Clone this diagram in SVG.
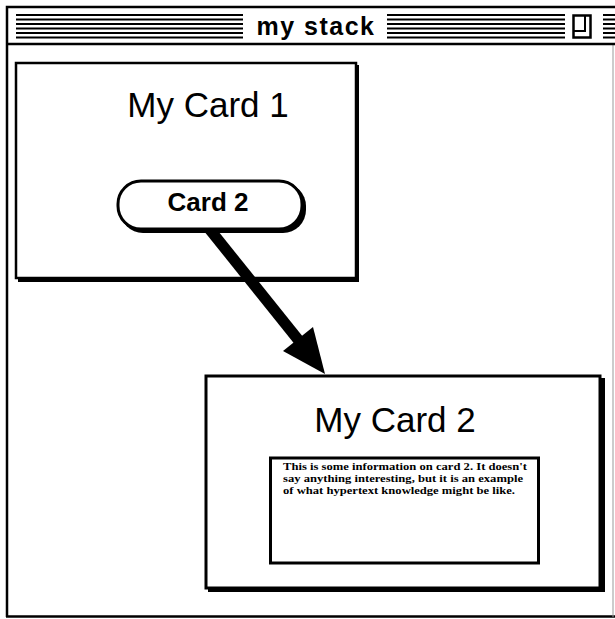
<svg xmlns="http://www.w3.org/2000/svg" width="615" height="619" viewBox="0 0 615 619">
<style>
.stripe{stroke:#000;stroke-width:2}
.frame{fill:none;stroke:#000}
.big{font-family:"Liberation Sans",Arial,sans-serif;font-size:35px;fill:#000}
.chi{font-family:"Liberation Sans",Arial,sans-serif;font-weight:bold;fill:#000}
.body{font-family:"Liberation Serif","Times New Roman",serif;font-weight:bold;font-size:11px;fill:#000}
</style>
<rect width="615" height="619" fill="#fff"/>
<g id="window">
  <path d="M7 617 V7 H615" class="frame" stroke-width="2.5"/>
  <line x1="6" y1="616.5" x2="615" y2="616.5" stroke="#000" stroke-width="2.5"/>
  <line x1="613" y1="45" x2="613" y2="617" stroke="#999" stroke-width="1"/>
  <line x1="7" y1="44" x2="615" y2="44" stroke="#000" stroke-width="2.5"/>
  <g id="stripes">
    <path class="stripe" d="M16 15H243M16 19.5H243M16 24H243M16 28.5H243M16 33H243M16 37.5H243"/>
    <path class="stripe" d="M387 15H565M387 19.5H565M387 24H565M387 28.5H565M387 33H565M387 37.5H565"/>
    <path class="stripe" d="M603 15H615M603 19.5H615M603 24H615M603 28.5H615M603 33H615M603 37.5H615"/>
  </g>
  <text class="chi" x="316" y="35" text-anchor="middle" font-size="25" letter-spacing="1.5">my stack</text>
  <g id="zoombox">
    <rect x="573.5" y="15.5" width="17" height="22" class="frame" stroke-width="2.5"/>
    <path d="M585 15.5 V31 H573.5" class="frame" stroke-width="2"/>
  </g>
</g>
<g id="card1">
  <rect x="18" y="65" width="341" height="217" fill="#000"/>
  <rect x="16" y="63" width="340" height="215" fill="#fff" stroke="#000" stroke-width="2.5"/>
  <text class="big" x="208" y="117" text-anchor="middle">My Card 1</text>
</g>
<g id="connectors">
  <line x1="207" y1="226" x2="300" y2="342" stroke="#000" stroke-width="11"/>
  <polygon points="325,374 283,351 313,327" fill="#000"/>
</g>
<g id="button-card2">
  <rect x="120" y="183" width="186" height="50" rx="23" fill="#000"/>
  <rect x="118" y="181" width="184" height="48" rx="23" fill="#fff" stroke="#000" stroke-width="3"/>
  <text class="chi" x="208" y="211" text-anchor="middle" font-size="26">Card 2</text>
</g>
<g id="card2">
  <rect x="208" y="378" width="397" height="214" fill="#000"/>
  <rect x="206" y="376" width="394" height="212" fill="#fff" stroke="#000" stroke-width="3"/>
  <text class="big" x="395" y="432" text-anchor="middle" font-size="36">My Card 2</text>
  <g id="field">
    <rect x="270.5" y="458" width="268" height="105" fill="#fff" stroke="#000" stroke-width="3"/>
    <text class="body" x="283" y="470" textLength="244" lengthAdjust="spacingAndGlyphs">This is some information on card 2. It doesn't</text>
    <text class="body" x="283" y="482" textLength="240" lengthAdjust="spacingAndGlyphs">say anything interesting, but it is an example</text>
    <text class="body" x="283" y="494" textLength="232" lengthAdjust="spacingAndGlyphs">of what hypertext knowledge might be like.</text>
  </g>
</g>
</svg>
